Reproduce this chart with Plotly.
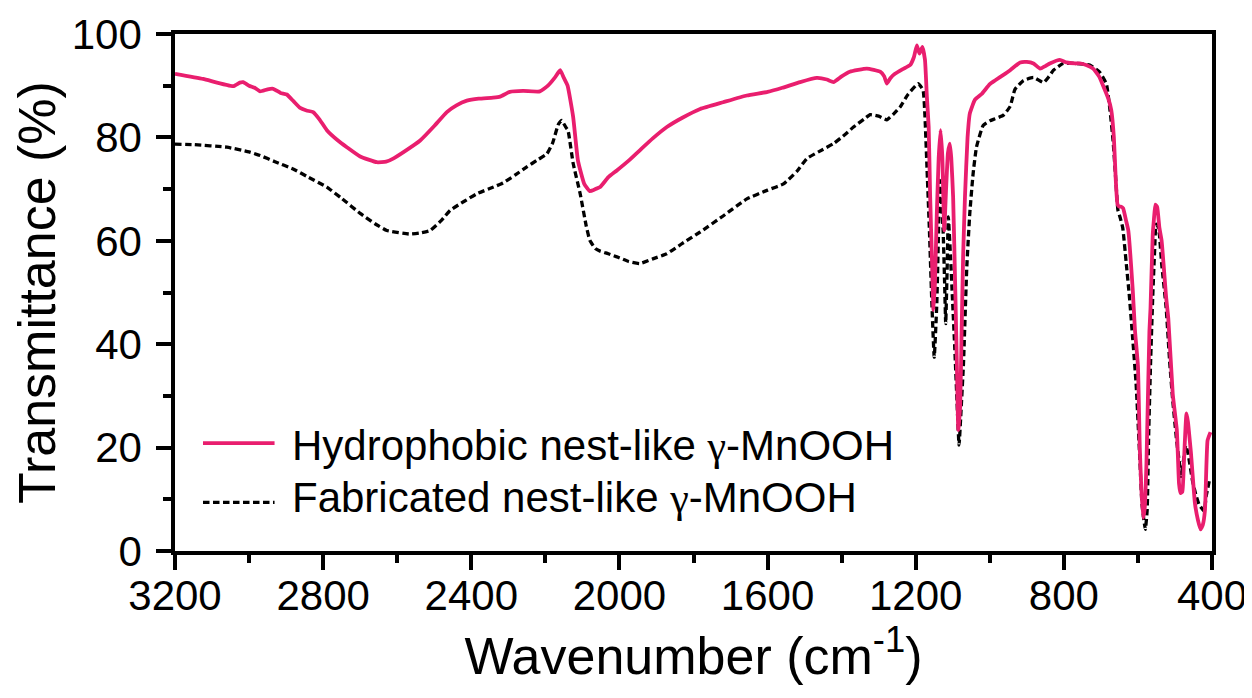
import plotly.graph_objects as go

# ---- data ----
wn_hydrophobic = [3200, 3124, 3043, 3025, 3016, 3000, 2985, 2970, 2950, 2935, 2915, 2898, 2880, 2862,
                  2845, 2827, 2810, 2790, 2760, 2736, 2700, 2655, 2630, 2611, 2580, 2538, 2500, 2466,
                  2440, 2412, 2380, 2341, 2322, 2296, 2260, 2215, 2193, 2175, 2160, 2150, 2140, 2125,
                  2112, 2095, 2080, 2065, 2052, 2030, 2007, 1975, 1945, 1910, 1872, 1830, 1782, 1720,
                  1656, 1600, 1560, 1512, 1467, 1440, 1422, 1400, 1378, 1332, 1296, 1285, 1278, 1268,
                  1256, 1235, 1215, 1205, 1197, 1190, 1182, 1175, 1170, 1165, 1161, 1156, 1152, 1148,
                  1143, 1138, 1133, 1128, 1123, 1118, 1113, 1108, 1104, 1099, 1093, 1088, 1085, 1080,
                  1076, 1072, 1067, 1060, 1054, 1040, 1022, 1000, 986, 959, 945, 918, 900, 882, 864,
                  850, 838, 811, 793, 770, 757, 740, 721, 705, 694, 680, 672, 665, 660, 655, 650, 645,
                  640, 632, 626, 614, 608, 600, 595, 591, 586, 582, 577, 569, 566, 560, 557, 553, 548,
                  542, 536, 524, 518, 506, 495, 489, 485, 480, 476, 469, 465, 460, 457, 446, 438, 431,
                  425, 419, 412, 404]
t_hydrophobic = [92.3, 91.3, 89.9, 90.6, 90.7, 90.0, 89.6, 88.9, 89.3, 89.4, 88.6, 88.3, 87.0, 85.7,
                 85.2, 84.9, 83.5, 81.4, 79.4, 78.1, 76.3, 75.2, 75.3, 75.9, 77.3, 79.4, 82.2, 84.9,
                 86.2, 87.1, 87.5, 87.7, 87.9, 88.8, 89.0, 88.9, 90.0, 91.5, 93.0, 91.5, 90.0, 84.0,
                 75.5, 71.0, 69.6, 70.0, 70.4, 72.3, 73.6, 75.5, 77.5, 79.8, 82.0, 83.8, 85.5, 86.8,
                 88.1, 88.8, 89.6, 90.7, 91.5, 91.2, 90.7, 91.8, 92.7, 93.3, 92.7, 91.8, 90.4, 91.5,
                 92.3, 93.2, 94.0, 95.5, 97.8, 96.2, 97.5, 95.0, 88.0, 82.0, 68.5, 56.0, 46.6, 52.0,
                 65.3, 76.0, 81.4, 76.0, 62.0, 70.0, 77.0, 78.8, 76.0, 68.5, 50.0, 33.0, 23.4, 28.0,
                 42.7, 57.0, 68.5, 80.0, 84.6, 87.3, 88.4, 90.3, 91.0, 92.3, 93.0, 94.5, 94.6, 94.3, 93.3,
                 93.8, 94.3, 95.0, 94.5, 94.3, 94.3, 94.0, 93.3, 91.8, 90.0, 87.5, 85.3, 80.0, 72.0, 67.0, 66.6, 66.6,
                 66.3, 63.9, 62.0, 50.5, 42.7, 35.8, 20.0, 12.4, 6.4, 8.0, 16.9, 42.5, 47.0, 61.2, 64.0, 67.0, 66.5,
                 62.5, 60.0, 49.2, 45.0, 30.4, 23.4, 13.0, 11.2, 11.5, 16.9, 26.6, 25.0, 21.4, 19.1, 9.2, 6.0, 4.2,
                 5.0, 7.9, 21.4, 23.0]

wn_fabricated = [3200, 3150, 3060, 3000, 2970, 2930, 2881, 2840, 2790, 2750, 2700, 2660, 2628, 2566,
                 2540, 2511, 2480, 2457, 2420, 2385, 2340, 2314, 2280, 2250, 2220, 2196, 2180, 2165,
                 2156, 2145, 2139, 2125, 2106, 2090, 2080, 2065, 2052, 2030, 2007, 1975, 1945, 1910,
                 1872, 1830, 1782, 1720, 1656, 1600, 1557, 1520, 1494, 1460, 1422, 1390, 1368, 1340,
                 1323, 1300, 1278, 1260, 1242, 1220, 1193, 1180, 1175, 1170, 1163, 1157, 1150, 1143,
                 1139, 1135, 1130, 1126, 1122, 1119, 1115, 1112, 1106, 1101, 1095, 1089, 1083, 1077,
                 1071, 1062, 1054, 1045, 1036, 1018, 1000, 986, 963, 945, 932, 909, 882, 855, 840, 828,
                 802, 766, 730, 703, 685, 675, 667, 660, 654, 648, 641, 632, 623, 614, 605, 595, 589,
                 580, 575, 571, 566, 560, 555, 551, 546, 542, 536, 524, 514, 506, 495, 487, 484, 476,
                 471, 465, 453, 444, 435, 428, 421, 416, 406]
t_fabricated = [78.7, 78.6, 78.1, 77.2, 76.5, 75.3, 73.9, 72.3, 70.4, 68.2, 65.3, 63.3, 62.0, 61.3,
                61.5, 62.0, 64.0, 65.9, 67.6, 69.1, 70.4, 71.2, 72.8, 74.3, 75.7, 76.8, 79.0, 82.5,
                83.3, 82.0, 81.4, 75.0, 69.1, 63.0, 60.1, 58.5, 58.0, 57.5, 56.9, 56.0, 55.6, 56.5,
                57.5, 59.5, 61.7, 64.8, 68.1, 69.8, 71.0, 73.5, 75.9, 77.3, 78.8, 80.6, 82.0, 83.5,
                84.4, 84.1, 83.4, 84.5, 85.9, 88.4, 90.4, 89.1, 84.0, 74.9, 62.0, 49.1, 37.5, 47.9,
                60.0, 71.7, 67.0, 62.0, 52.0, 44.0, 55.0, 64.6, 57.0, 49.1, 40.0, 29.8, 20.5, 28.0,
                36.3, 55.0, 65.3, 73.0, 78.1, 82.3, 83.2, 83.6, 84.3, 86.0, 89.3, 91.0, 91.6, 90.6, 91.8, 93.0,
                94.3, 94.3, 94.0, 92.6, 90.3, 85.0, 79.3, 72.0, 65.9, 64.5, 62.5, 56.0, 49.2, 41.0, 32.4, 18.0, 9.0,
                4.2, 8.0, 22.4, 36.0, 49.2, 58.0, 63.2, 62.8, 61.2, 55.6, 47.2, 36.3, 29.1, 21.0, 16.5, 14.4, 18.0,
                20.4, 19.0, 13.7, 11.0, 9.0, 8.3, 7.7, 10.5, 14.0]

series_names = ["Hydrophobic nest-like <span style='font-family:Liberation Serif'>\u03b3</span>-MnOOH",
                "Fabricated nest-like <span style='font-family:Liberation Serif'>\u03b3</span>-MnOOH"]
x_ticks = [3200, 2800, 2400, 2000, 1600, 1200, 800, 400]
y_ticks = [0, 20, 40, 60, 80, 100]

PINK = "#E91E6E"
FONT = "Liberation Sans, Arial, Helvetica, sans-serif"
DASH = "6.5px,3.5px"

fig = go.Figure()
fig.add_trace(go.Scatter(x=wn_fabricated, y=t_fabricated, mode="lines", name="Fabricated",
                         line=dict(color="black", width=3.3, dash=DASH, shape="spline", smoothing=0.4),
                         showlegend=False))
fig.add_trace(go.Scatter(x=wn_hydrophobic, y=t_hydrophobic, mode="lines", name="Hydrophobic",
                         line=dict(color=PINK, width=3.8, shape="spline", smoothing=0.4),
                         showlegend=False))

# manual legend (line samples + labels): (line y, text y, colour, dash, width)
legend_rows = [(0.2087, 0.205, PINK, "solid", 3.8), (0.094, 0.103, "black", DASH, 3.3)]
for (ly, ty, col, dash, w), name in zip(legend_rows, series_names):
    fig.add_shape(type="line", xref="paper", yref="paper", x0=0.027, x1=0.096, y0=ly, y1=ly,
                  line=dict(color=col, width=w, dash=dash))
    fig.add_annotation(xref="paper", yref="paper", x=0.111, y=ty, xanchor="left", yanchor="middle",
                       text=name, showarrow=False, font=dict(family=FONT, size=42, color="black"))

axis_common = dict(showline=True, linecolor="black", linewidth=3.5, mirror=True, showgrid=False,
                   zeroline=False, ticks="outside", tickwidth=3.5, ticklen=15, tickcolor="black",
                   automargin=False, tickfont=dict(family=FONT, size=42, color="black"))

fig.update_xaxes(range=[3200, 400], tickvals=x_ticks, ticktext=[str(v) for v in x_ticks],
                 minor=dict(dtick=200, ticks="outside", ticklen=8, tickwidth=3.5, tickcolor="black", tick0=400),
                 ticklabelstandoff=-10,
                 title=dict(text="Wavenumber (cm<sup>-1</sup>)", font=dict(family=FONT, size=52, color="black"),
                            standoff=8),
                 **axis_common)
fig.update_yaxes(range=[0, 100], tickvals=y_ticks, ticktext=[str(v) for v in y_ticks],
                 minor=dict(dtick=10, ticks="outside", ticklen=8, tickwidth=3.5, tickcolor="black", tick0=0),
                 ticklabelstandoff=6,
                 title=dict(text="Transmittance (%)", font=dict(family=FONT, size=52, color="black"),
                            standoff=8),
                 **axis_common)

fig.update_layout(width=1244, height=690, margin=dict(l=167, r=40, t=26, b=147),
                  paper_bgcolor="white", plot_bgcolor="white", showlegend=False,
                  font=dict(family=FONT, color="black"))

fig.write_html("out.html")
